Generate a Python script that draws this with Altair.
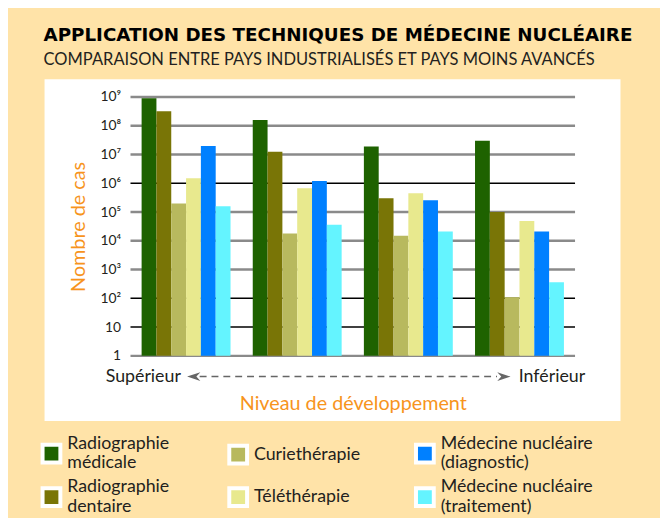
import json
import altair as alt
import pandas as pd

# ---- texts ----
titre = "APPLICATION DES TECHNIQUES DE MÉDECINE NUCLÉAIRE"
sous_titre = "COMPARAISON ENTRE PAYS INDUSTRIALISÉS ET PAYS MOINS AVANCÉS"
axe_y_titre = "Nombre de cas"
axe_x_titre = "Niveau de développement"
gauche = "Supérieur"
droite = "Inférieur"

# ---- data ----
niveaux = ["Niveau 1", "Niveau 2", "Niveau 3", "Niveau 4"]
series = [
    "Radiographie médicale",
    "Radiographie dentaire",
    "Curiethérapie",
    "Téléthérapie",
    "Médecine nucléaire (diagnostic)",
    "Médecine nucléaire (traitement)",
]
radiographie_medicale = [9.0e8, 1.6e8, 1.9e7, 3.0e7]
radiographie_dentaire = [3.2e8, 1.26e7, 3.0e5, 1.0e5]
curietherapie = [2.0e5, 1.8e4, 1.5e4, 1.1e2]
teletherapie = [1.5e6, 6.8e5, 4.5e5, 4.9e4]
mn_diagnostic = [2.0e7, 1.2e6, 2.6e5, 2.1e4]
mn_traitement = [1.6e5, 3.6e4, 2.1e4, 3.6e2]
graduations = [1, 10, 1e2, 1e3, 1e4, 1e5, 1e6, 1e7, 1e8, 1e9]

legende_lignes = {
    series[0]: ["Radiographie", "médicale"],
    series[1]: ["Radiographie", "dentaire"],
    series[2]: "Curiethérapie",
    series[3]: "Téléthérapie",
    series[4]: ["Médecine nucléaire", "(diagnostic)"],
    series[5]: ["Médecine nucléaire", "(traitement)"],
}

couleurs = {
    series[0]: "#1E6200",
    series[1]: "#797506",
    series[2]: "#B8B95E",
    series[3]: "#E8E98E",
    series[4]: "#0080FF",
    series[5]: "#64F4FF",
}

valeurs = [radiographie_medicale, radiographie_dentaire, curietherapie,
           teletherapie, mn_diagnostic, mn_traitement]
rows = []
for s, vals in zip(series, valeurs):
    for n, v in zip(niveaux, vals):
        rows.append({"niveau": n, "serie": s, "valeur": v})
df = pd.DataFrame(rows)
grid_df = pd.DataFrame({"v": graduations})
one = pd.DataFrame({"a": [0]})

ORANGE = "#F7941D"
FONT = "Lato"
TXT = "#231F20"

yscale = alt.Scale(type="log", domain=[1, 1e9], nice=False)
label_expr = ("datum.value < 5 ? '1' : datum.value < 50 ? '10' : '10' + "
              "['','','²','³','⁴','⁵','⁶','⁷','⁸','⁹'][round(log(datum.value)/LN10)]")
yaxis = alt.Axis(values=graduations, labelExpr=label_expr, grid=False, ticks=False,
                 domain=False, labelFont=FONT, labelFontSize=14, labelColor=TXT,
                 labelPadding=10, title=axe_y_titre, titleFont=FONT,
                 titleFontSize=20, titleFontWeight="normal", titleColor=ORANGE,
                 titlePadding=12, zindex=1)

leg_expr = " : ".join(
    f"datum.label == {json.dumps(k, ensure_ascii=False)} ? {json.dumps(v, ensure_ascii=False)}"
    for k, v in legende_lignes.items()
) + " : datum.label"
multi_test = "indexof(datum.label, 'Radiographie') == 0 || indexof(datum.label, 'Médecine') == 0"

panel = alt.Chart(one).mark_rect(color="white").encode(
    x=alt.value(-87), x2=alt.value(496), y=alt.value(-18), y2=alt.value(328)
)

black_test = "datum.v == 1e6 || datum.v == 100 || datum.v == 10"
grid = alt.Chart(grid_df).mark_rule().encode(
    y=alt.Y("v:Q", scale=yscale, axis=yaxis),
    color=alt.condition(black_test, alt.value("#000000"), alt.value("#8A8A8A")),
    strokeWidth=alt.condition(black_test, alt.value(1.5), alt.value(2.5)),
)

bars = alt.Chart(df).mark_bar().encode(
    x=alt.X("niveau:N", sort=niveaux,
            scale=alt.Scale(paddingInner=0.2, paddingOuter=0.1),
            axis=alt.Axis(labels=False, ticks=False, domain=False, title=axe_x_titre,
                          titleFont=FONT, titleFontSize=20, titleFontWeight="normal",
                          titleColor=ORANGE, titlePadding=38, zindex=1)),
    xOffset=alt.XOffset("serie:N", sort=series,
                        scale=alt.Scale(paddingInner=0, paddingOuter=0)),
    y=alt.Y("valeur:Q", scale=yscale, axis=yaxis),
    y2=alt.datum(1),
    color=alt.Color("serie:N",
                    scale=alt.Scale(domain=series,
                                    range=[couleurs[s] for s in series]),
                    legend=alt.Legend(title=None, orient="none", legendX=-91, legendY=350,
                                      columns=3, gridAlign="all", columnPadding=2,
                                      rowPadding=6, symbolType="square", symbolSize=324,
                                      symbolStrokeColor="white", symbolStrokeWidth=4,
                                      symbolOpacity=1, labelFont=FONT, labelFontSize=18,
                                      labelColor=TXT, labelOffset=5, labelLimit=300,
                                      labelExpr=leg_expr,
                                      labelBaseline=alt.ExprRef(
                                          expr=f"({multi_test}) ? 'line-bottom' : 'middle'"))),
)

arrow_line = alt.Chart(one).mark_rule(color="#666666", strokeWidth=1.5,
                                      strokeDash=[7, 5]).encode(
    x=alt.value(70), x2=alt.value(371), y=alt.value(283)
)
left_head = alt.Chart(one).mark_point(
    shape="M-1,0 L1,-0.65 L0.4,0 L1,0.65 Z", filled=True, color="#666666",
    opacity=1, size=180).encode(x=alt.value(64), y=alt.value(283))
right_head = alt.Chart(one).mark_point(
    shape="M1,0 L-1,-0.65 L-0.4,0 L-1,0.65 Z", filled=True, color="#666666",
    opacity=1, size=180).encode(x=alt.value(378), y=alt.value(283))

def label(txt, x, y, align, size, weight="normal", color=TXT, font=FONT):
    return alt.Chart(pd.DataFrame({"t": [txt]})).mark_text(
        align=align, baseline="middle", font=font, fontSize=size,
        fontWeight=weight, color=color).encode(
        text="t:N", x=alt.value(x), y=alt.value(y))

t_gauche = label(gauche, 51, 283, "right", 18)
t_droite = label(droite, 393, 283, "left", 18)
t_titre = label(titre, -88, -63, "left", 18.5, "bold", "#000000", "DejaVu Sans")
t_sous = label(sous_titre, -88, -37, "left", 16.7)

chart = alt.layer(
    panel, grid, bars, arrow_line, left_head, right_head,
    t_gauche, t_droite, t_titre, t_sous
).properties(
    width=450, height=262,
    background="#FFE3A8",
    padding={"left": 124, "top": 87, "right": 86, "bottom": 161},
    autosize=alt.AutoSizeParams(type="none"),
).configure_view(stroke=None)

chart.save("out.html", embed_options={"renderer": "svg", "actions": False})
